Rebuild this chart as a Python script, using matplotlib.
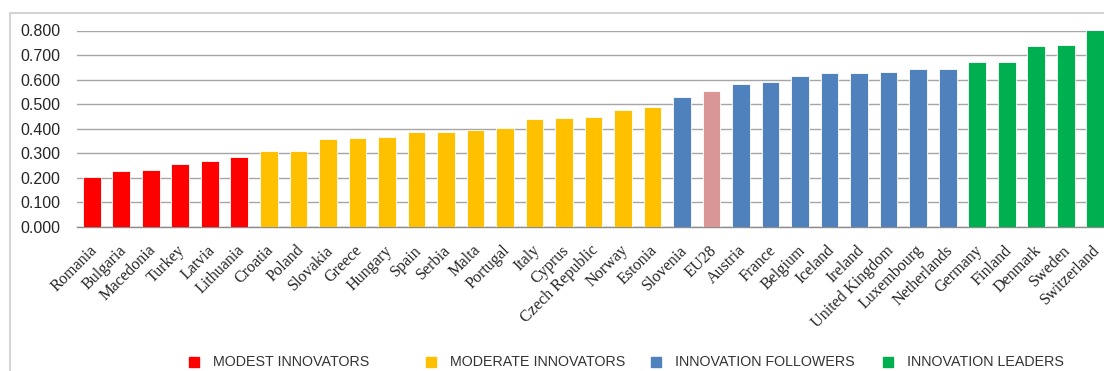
import matplotlib
matplotlib.use("Agg")
import matplotlib.pyplot as plt
import matplotlib.transforms as mtransforms
from matplotlib.patches import Rectangle
from matplotlib.ticker import MultipleLocator, FormatStrFormatter

countries = ["Romania", "Bulgaria", "Macedonia", "Turkey", "Latvia", "Lithuania",
             "Croatia", "Poland", "Slovakia", "Greece", "Hungary", "Spain", "Serbia",
             "Malta", "Portugal", "Italy", "Cyprus", "Czech Republic", "Norway",
             "Estonia", "Slovenia", "EU28", "Austria", "France", "Belgium", "Iceland",
             "Ireland", "United Kingdom", "Luxembourg", "Netherlands", "Germany",
             "Finland", "Denmark", "Sweden", "Switzerland"]
scores = [0.204, 0.226, 0.234, 0.256, 0.270, 0.283,
          0.309, 0.309, 0.359, 0.363, 0.367, 0.385, 0.385,
          0.394, 0.402, 0.439, 0.443, 0.447, 0.478,
          0.487, 0.531, 0.553, 0.584, 0.589, 0.614, 0.625,
          0.625, 0.633, 0.642, 0.645, 0.672,
          0.672, 0.735, 0.739, 0.805]
groups = ["modest"] * 6 + ["moderate"] * 14 + ["follower", "eu"] + ["follower"] * 8 + ["leader"] * 5

groupColors = {"modest": "#FF0000", "moderate": "#FFC000", "follower": "#4F81BD",
               "eu": "#D99694", "leader": "#00B050"}
legendLabels = [("modest", "MODEST INNOVATORS"), ("moderate", "MODERATE INNOVATORS"),
                ("follower", "INNOVATION FOLLOWERS"), ("leader", "INNOVATION LEADERS")]

W, H = 1104, 371
fig = plt.figure(figsize=(W / 100, H / 100), dpi=100)

# chart frame like the spreadsheet export
fig.patches.append(Rectangle((10 / W, -0.1), 1.2, (H - 13) / H + 0.1, transform=fig.transFigure,
                             fill=False, edgecolor="#D4D4D4", linewidth=1.5))

ax = fig.add_axes([77 / W, 144 / H, (1110 - 77) / W, (340.5 - 144) / H])

x = range(len(countries))
colors = [groupColors[g] for g in groups]
ax.bar(x, scores, width=0.6, color=colors, edgecolor="#FFFFFF", linewidth=0.6, zorder=3)

ax.set_xlim(-0.5, len(countries) - 0.5)
ax.set_ylim(0, 0.8)
ax.yaxis.set_major_locator(MultipleLocator(0.1))
ax.yaxis.set_major_formatter(FormatStrFormatter("%.3f"))
ax.grid(axis="y", color="#A6A6A6", linewidth=1.0, zorder=0)
for side in ["top", "right", "left"]:
    ax.spines[side].set_visible(False)
ax.spines["bottom"].set_color("#8C8C8C")
ax.spines["bottom"].set_linewidth(1.0)

ax.tick_params(axis="y", length=0, pad=12, labelsize=11.5, labelcolor="#262626")
for lab in ax.get_yticklabels():
    lab.set_family("Liberation Sans")

ax.set_xticks(list(x))
ax.set_xticklabels(countries, rotation=45, ha="right", rotation_mode="anchor",
                   family="Liberation Serif", fontsize=11.6, color="#262626")
ax.tick_params(axis="x", length=0, pad=11)
shift = mtransforms.ScaledTranslation(-3 / 100, 0, fig.dpi_scale_trans)
for lab in ax.get_xticklabels():
    lab.set_transform(lab.get_transform() + shift)

# legend drawn along the bottom
legX = [189, 426, 651, 883]
for (key, text), px in zip(legendLabels, legX):
    fig.patches.append(Rectangle((px / W, (H - 366.5) / H), 9.5 / W, 9.5 / H, transform=fig.transFigure,
                                 color=groupColors[key]))
    fig.text((px + 24) / W, (H - 362) / H, text, fontsize=10.3, family="Liberation Sans",
             color="#333333", va="center", ha="left")

fig.savefig("out.png", dpi=100)
